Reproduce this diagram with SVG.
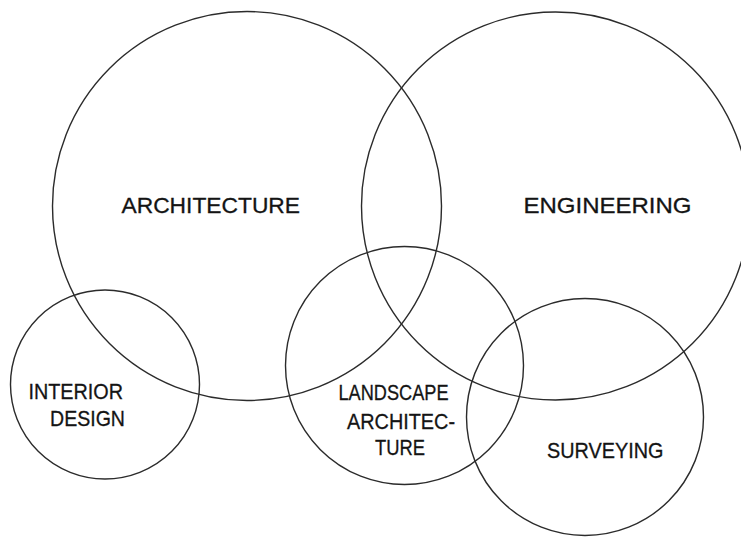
<svg xmlns="http://www.w3.org/2000/svg" width="741" height="538" viewBox="0 0 741 538">
<style>
.c{fill:none;stroke:#2b2b2b;stroke-width:1.4}
.t{font-family:"Liberation Sans","Open Sans",sans-serif;font-size:22px;fill:#141414;stroke:#141414;stroke-width:0.3}
</style>
<rect width="741" height="538" fill="#fff"/>
<g id="architecture"><circle class="c" cx="247" cy="206" r="194.5"/><text class="t" x="121.5" y="213" textLength="178.5" lengthAdjust="spacingAndGlyphs">ARCHITECTURE</text></g>
<g id="engineering"><circle class="c" cx="555.5" cy="206" r="194"/><text class="t" x="523.5" y="213" textLength="168" lengthAdjust="spacingAndGlyphs">ENGINEERING</text></g>
<g id="interior-design"><circle class="c" cx="105" cy="384.5" r="94.5"/><text class="t" x="28.5" y="399" textLength="94.5" lengthAdjust="spacingAndGlyphs">INTERIOR</text><text class="t" x="50" y="426" textLength="75" lengthAdjust="spacingAndGlyphs">DESIGN</text></g>
<g id="landscape-architecture"><circle class="c" cx="404.5" cy="365.5" r="119"/><text class="t" x="338.5" y="400" textLength="110" lengthAdjust="spacingAndGlyphs">LANDSCAPE</text><text class="t" x="347" y="429" textLength="108" lengthAdjust="spacingAndGlyphs">ARCHITEC-</text><text class="t" x="375" y="455" textLength="50" lengthAdjust="spacingAndGlyphs">TURE</text></g>
<g id="surveying"><circle class="c" cx="585" cy="417" r="118.5"/><text class="t" x="547" y="458" textLength="116.5" lengthAdjust="spacingAndGlyphs">SURVEYING</text></g>
<g id="connectors"></g>
</svg>
